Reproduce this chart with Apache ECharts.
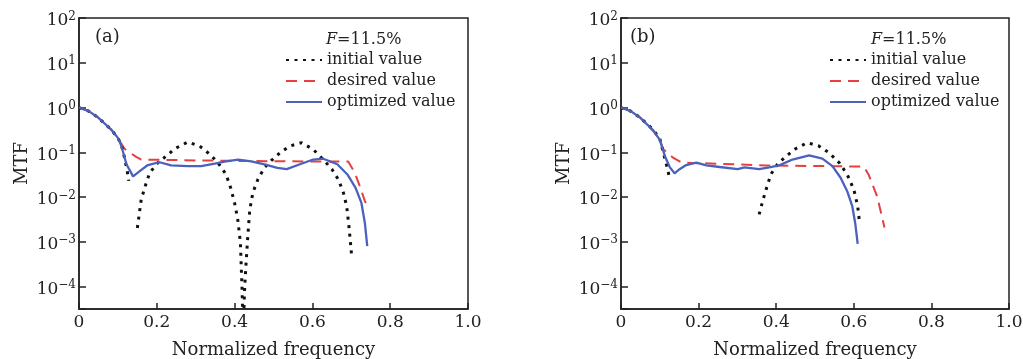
<!DOCTYPE html>
<html><head><meta charset="utf-8">
<script src="https://cdn.jsdelivr.net/npm/echarts@6/dist/echarts.min.js"></script>
<style>html,body{margin:0;padding:0;background:#fff}#c{width:1023px;height:359px}</style>
</head><body><div id="c"></div>
<script>
// ---- data (x: normalized frequency, y: MTF) ----
var initialA = [[0,1],[0.025,0.83],[0.049,0.60],[0.083,0.32],[0.1,0.21],[0.109,0.145],[0.117,0.076],[0.124,0.038],[0.128,0.023],
  [0.14,'-'],
  [0.150,0.00204],[0.160,0.0089],[0.173,0.021],[0.182,0.035],[0.203,0.059],[0.225,0.083],[0.246,0.12],[0.280,0.17],[0.310,0.138],
  [0.336,0.091],[0.357,0.059],[0.378,0.032],[0.390,0.016],[0.400,0.0074],[0.408,0.0032],[0.415,0.00095],[0.417,0.00029],[0.419,0.0001],
  [0.422,0.00001],[0.426,0.0001],[0.430,0.0004],[0.434,0.00135],[0.439,0.0052],[0.447,0.0126],[0.460,0.025],[0.477,0.046],[0.494,0.065],
  [0.517,0.098],[0.542,0.138],[0.572,0.164],[0.602,0.116],[0.628,0.069],[0.650,0.042],[0.667,0.0245],[0.680,0.0123],[0.688,0.0063],
  [0.694,0.0022],[0.698,0.00093],[0.701,0.00047]];
var desiredA = [[0,1],[0.025,0.83],[0.049,0.60],[0.083,0.32],[0.1,0.21],[0.117,0.12],[0.135,0.093],[0.147,0.079],[0.16,0.069],
  [0.3,0.066],[0.5,0.063],[0.692,0.062],[0.709,0.035],[0.722,0.0174],[0.735,0.0081],[0.740,0.0068]];
var optimizedA = [[0,1],[0.025,0.83],[0.049,0.60],[0.083,0.32],[0.1,0.21],[0.109,0.138],[0.122,0.054],[0.139,0.029],[0.156,0.038],
  [0.177,0.052],[0.207,0.060],[0.237,0.051],[0.28,0.049],[0.314,0.049],[0.349,0.056],[0.374,0.062],[0.409,0.069],[0.443,0.063],
  [0.477,0.054],[0.51,0.045],[0.534,0.042],[0.568,0.054],[0.602,0.069],[0.628,0.072],[0.664,0.054],[0.69,0.032],[0.711,0.016],
  [0.726,0.0074],[0.735,0.0026],[0.741,0.0008]];
var initialB = [[0,1],[0.025,0.83],[0.049,0.60],[0.083,0.32],[0.1,0.20],[0.109,0.098],[0.117,0.054],[0.126,0.025],
  [0.2,'-'],
  [0.356,0.0041],[0.365,0.0081],[0.374,0.0148],[0.386,0.032],[0.403,0.054],[0.425,0.081],[0.45,0.12],[0.48,0.164],[0.51,0.138],
  [0.536,0.098],[0.562,0.059],[0.583,0.032],[0.6,0.0148],[0.61,0.0063],[0.615,0.0026]];
var desiredB = [[0,1],[0.025,0.83],[0.049,0.60],[0.083,0.30],[0.1,0.19],[0.109,0.117],[0.134,0.076],[0.156,0.059],[0.374,0.051],
  [0.626,0.048],[0.638,0.032],[0.66,0.0105],[0.679,0.0021]];
var optimizedB = [[0,1],[0.025,0.83],[0.049,0.60],[0.083,0.31],[0.1,0.19],[0.113,0.083],[0.126,0.046],[0.138,0.034],[0.151,0.042],
  [0.168,0.052],[0.194,0.059],[0.22,0.051],[0.254,0.047],[0.301,0.042],[0.318,0.046],[0.34,0.044],[0.356,0.042],[0.382,0.046],
  [0.408,0.051],[0.442,0.069],[0.485,0.085],[0.519,0.072],[0.545,0.049],[0.566,0.027],[0.583,0.0135],[0.596,0.0063],[0.604,0.0025],[0.61,0.0009]];
var seriesNames = ['initial value','desired value','optimized value'];
var panelLabels = ['(a)','(b)'];
var noteText = '11.5%';
var xTicks = [0,0.2,0.4,0.6,0.8,1.0];

var FONT = 'DejaVu Serif';
var INK = '#222';
var RED = '#e5403f', BLUE = '#4a62bd', BLACK = '#111';

function yFmt(v){
  var l = Math.log10(v), e = Math.round(l);
  if (Math.abs(l-e) > 1e-6) return '';
  return '{b|10}{e|' + (e<0 ? '\u2212'+(-e) : e) + '}';
}
function xFmt(v){ return v===0 ? '0' : v.toFixed(1); }

function mkX(i){
  return {gridIndex:i,type:'value',min:0,max:1,interval:0.2,
    name:'Normalized frequency',nameLocation:'middle',nameGap:32,
    nameTextStyle:{fontFamily:FONT,fontSize:18,color:INK},
    axisLine:{lineStyle:{color:INK,width:1.5}},
    axisTick:{inside:true,length:6,lineStyle:{color:INK,width:1.5}},
    axisLabel:{fontFamily:FONT,fontSize:17,color:INK,margin:5,formatter:xFmt},
    splitLine:{show:false}};
}
function mkY(i){
  return {gridIndex:i,type:'log',logBase:10,min:Math.pow(10,-4.5),max:100,
    name:'MTF',nameLocation:'middle',nameGap:48,nameRotate:90,
    nameTextStyle:{fontFamily:FONT,fontSize:18,color:INK},
    axisLine:{lineStyle:{color:INK,width:1.5}},
    axisTick:{inside:true,length:7,lineStyle:{color:INK,width:1.5}},
    minorTick:{show:false},
    axisLabel:{fontFamily:FONT,color:INK,margin:3,formatter:yFmt,padding:[6,0,0,0],
      rich:{b:{fontFamily:FONT,fontSize:17,color:INK},e:{fontFamily:FONT,fontSize:12,color:INK,padding:[0,0,9,0]}}},
    splitLine:{show:false}};
}
function mkSeries(i, data, k){
  var styles = [
    {color:BLACK,width:3,type:[3,5.5],cap:'butt'},
    {color:RED,width:2,type:[11,7]},
    {color:BLUE,width:2.3,type:'solid'}];
  return {name:seriesNames[k],type:'line',xAxisIndex:i,yAxisIndex:i,data:data,
    showSymbol:false,symbol:'none',connectNulls:false,clip:true,
    lineStyle:styles[k],itemStyle:{color:styles[k].color},z:[3,2,4][k]};
}
function mkLegend(left){
  return {left:left,top:52,orient:'vertical',padding:0,itemWidth:36,itemHeight:14,itemGap:5,itemTextGap:6,
    data:seriesNames,selectedMode:false,
    itemStyle:{color:'rgba(0,0,0,0)',borderWidth:0,opacity:0},
    textStyle:{fontFamily:FONT,fontSize:16,color:INK}};
}

var chart = echarts.init(document.getElementById('c'), null, {renderer:'canvas'});
chart.setOption({
  animation:false,
  grid:[
    {left:79,right:555,top:18,bottom:50,show:true,borderColor:INK,borderWidth:1.5,outerBoundsMode:'none',containLabel:false},
    {left:621,right:14,top:18,bottom:50,show:true,borderColor:INK,borderWidth:1.5,outerBoundsMode:'none',containLabel:false}],
  xAxis:[mkX(0),mkX(1)],
  yAxis:[mkY(0),mkY(1)],
  legend:[mkLegend(285),mkLegend(829)],
  series:[mkSeries(0,initialA,0),mkSeries(0,desiredA,1),mkSeries(0,optimizedA,2),
          mkSeries(1,initialB,0),mkSeries(1,desiredB,1),mkSeries(1,optimizedB,2)],
  graphic:[
    {type:'text',left:95,top:28,style:{text:panelLabels[0],font:'18px "DejaVu Serif"',fill:INK}},
    {type:'text',left:630,top:28,style:{text:panelLabels[1],font:'18px "DejaVu Serif"',fill:INK}},
    {type:'text',left:326,top:32,style:{text:'{i|F}{n|=' + noteText + '}',
      rich:{i:{fontFamily:FONT,fontSize:16,fontStyle:'italic',fill:INK},n:{fontFamily:FONT,fontSize:16,fill:INK}}}},
    {type:'text',left:871,top:32,style:{text:'{i|F}{n|=' + noteText + '}',
      rich:{i:{fontFamily:FONT,fontSize:16,fontStyle:'italic',fill:INK},n:{fontFamily:FONT,fontSize:16,fill:INK}}}}
  ]
});
</script></body></html>
